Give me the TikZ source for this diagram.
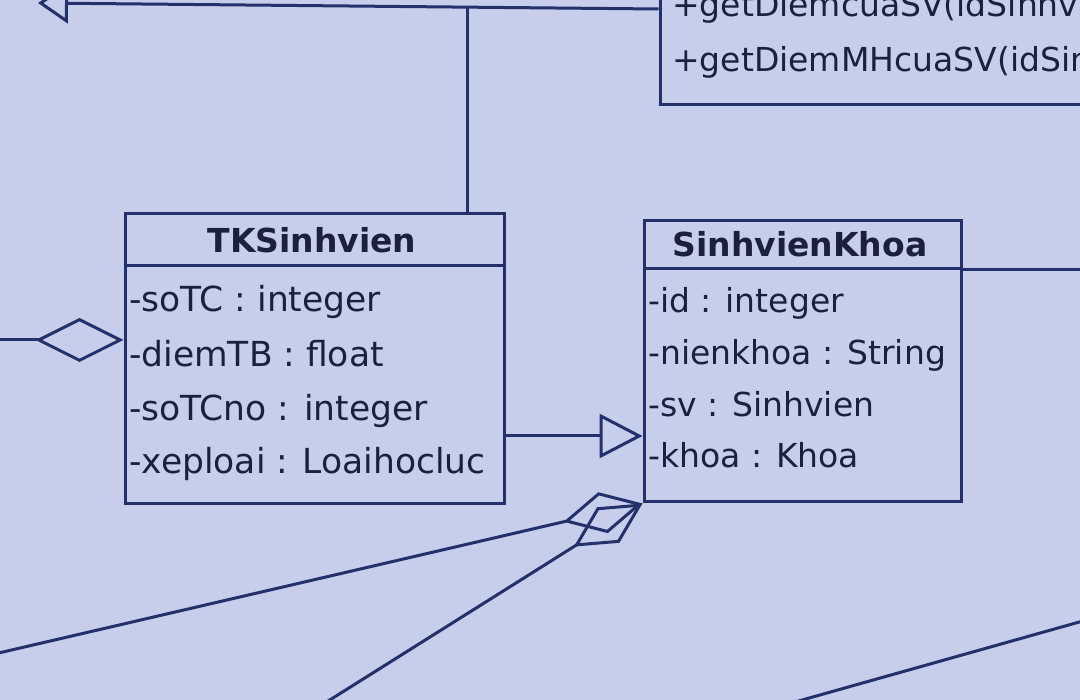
\documentclass[tikz,border=0pt]{standalone}
\usepackage{fontspec}
\setmainfont{DejaVu Sans}
\usetikzlibrary{arrows.meta}
\definecolor{screen}{RGB}{198,206,236}
\definecolor{umlline}{RGB}{36,48,106}
\definecolor{umltext}{RGB}{28,32,60}

\begin{document}
\begin{tikzpicture}[x=1pt,y=-1pt,
  classbox/.style={draw=umlline,line width=3pt,inner sep=0pt},
  attr/.style={anchor=base west,inner sep=0pt,text=umltext,font=\fontsize{33}{40}\selectfont},
  bigattr/.style={attr,font=\fontsize{34.5}{40}\selectfont},
  classname/.style={anchor=base,inner sep=0pt,text=umltext,font=\fontsize{33}{40}\selectfont\bfseries},
  conn/.style={draw=umlline,line width=3pt},
  gen/.style={conn,-{Triangle[open,length=43pt,width=44pt]}},
  aggr/.style={conn,-{Diamond[open,length=88pt,width=44pt]}},
  aggrb/.style={conn,-{Diamond[open,length=81pt,width=42pt]}}]
\useasboundingbox (0,0) rectangle (1080,700);
\clip (0,0) rectangle (1080,700);
\fill[screen] (0,0) rectangle (1080,700);

\node[classbox,minimum width=490pt,minimum height=200pt] (diem) at (905,5) {};
\node[attr] (getdiem) at (672,17) {+getDiemcuaSV(idSinhvi};
\node[attr] (getdiemmh) at (672,72) {+getDiemMHcuaSV(idSin};

\node[classbox,minimum width=379pt,minimum height=290pt] (tk) at (314.5,359) {};
\draw[conn] (tk.west |- 0,266) -- (tk.east |- 0,266);
\node[classname] (tkname) at (312,253) {TKSinhvien};
\node[bigattr] (sotc) at (129,312) {-soTC : integer};
\node[bigattr] (diemtb) at (129,367) {-diemTB : float};
\node[bigattr] (sotcno) at (129,421) {-soTCno : integer};
\node[bigattr] (xeploai) at (129,474) {-xeploai : Loaihocluc};

\node[classbox,minimum width=317pt,minimum height=281pt] (svk) at (802.5,361.5) {};
\draw[conn] (svk.west |- 0,269) -- (svk.east |- 0,269);
\node[classname] (svkname) at (800,257) {SinhvienKhoa};
\node[attr] (id) at (648,313) {-id : integer};
\node[attr] (nienkhoa) at (648,365) {-nienkhoa : String};
\node[attr] (sv) at (648,417) {-sv : Sinhvien};
\node[attr] (khoa) at (648,468) {-khoa : Khoa};

\coordinate (parent) at (38,3);
\coordinate (joint) at (467,7);
\draw[conn,-{Triangle[open,length=30pt,width=40pt]}] (diem.west |- 0,9) -- (parent);
\draw[conn] (joint |- tk.north) -- (joint);

\coordinate (genrow) at (0,436);
\draw[gen] (tk.east |- genrow) -- (svk.west |- genrow);

\coordinate (leftin) at (-10,340);
\draw[aggr] (leftin) -- (tk.west |- leftin);

\coordinate (rout) at (1090,270);
\draw[conn] (svk.east |- rout) -- (rout);

\coordinate (lowa) at (-10,655);
\coordinate (lowb) at (325,703);
\draw[aggrb] (lowa) -- (svk.south west);
\draw[aggrb] (lowb) -- (svk.south west);

\coordinate (fara) at (795,702);
\coordinate (farb) at (1090,619);
\draw[conn] (fara) -- (farb);
\end{tikzpicture}
\end{document}
